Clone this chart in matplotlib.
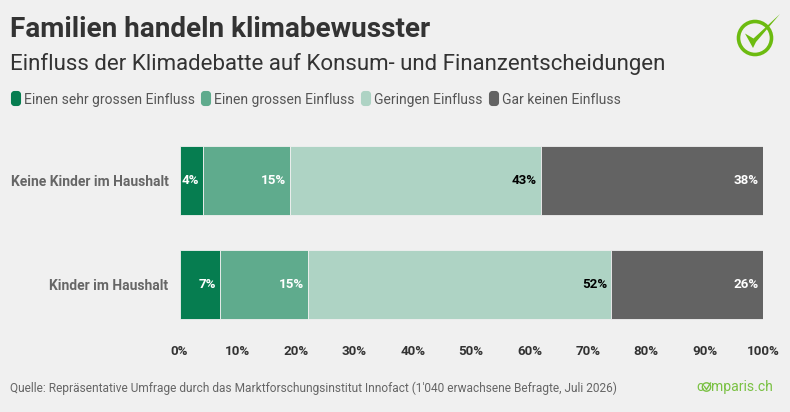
import matplotlib
matplotlib.use('Agg')
import matplotlib.pyplot as plt
from matplotlib.patches import Circle, FancyBboxPatch, Polygon
import numpy as np

# Data
groups = ['Keine Kinder im Haushalt', 'Kinder im Haushalt']
series_names = ['Einen sehr grossen Einfluss', 'Einen grossen Einfluss', 'Geringen Einfluss', 'Gar keinen Einfluss']
sehr_gross = [4, 7]
gross = [15, 15]
gering = [43, 52]
gar_kein = [38, 26]
xticks = [0, 10, 20, 30, 40, 50, 60, 70, 80, 90, 100]

colors = ['#067d50', '#5fab8d', '#aed3c4', '#636363']
label_colors = ['white', 'white', 'black', 'white']
bg = '#f0f0f0'
W, H = 790, 412

plt.rcParams['font.family'] = ['Roboto', 'DejaVu Sans']

fig = plt.figure(figsize=(W / 100, H / 100), dpi=100, facecolor=bg)

# overlay in pixel coordinates for the header, legend and logos
over = fig.add_axes([0, 0, 1, 1])
over.set_xlim(0, W)
over.set_ylim(H, 0)
over.axis('off')

over.text(10, 29.5, 'Familien handeln klimabewusster', fontsize=20.05, fontweight='bold', color='#333333', va='center')
over.text(10, 63.5, 'Einfluss der Klimadebatte auf Konsum- und Finanzentscheidungen', fontsize=16.05, color='#333333', va='center')

# legend
legend_x = [11, 201, 361, 489]
for name, c, lx in zip(series_names, colors, legend_x):
    over.add_patch(FancyBboxPatch((lx + 1, 92), 8, 13, boxstyle='round,pad=0,rounding_size=2.5', mutation_aspect=1,
                                  fc=c, ec=c, lw=1.5))
    over.text(lx + 13, 100, name, fontsize=10, color='#555555', va='center')

# source
over.text(10, 388, "Quelle: Repräsentative Umfrage durch das Marktforschungsinstitut Innofact (1'040 erwachsene Befragte, Juli 2026)",
          fontsize=8.55, color='#666666', va='center')

# comparis text + logo
over.text(696, 387, 'c', fontsize=10.2, color='#7ac143', va='center')
over.text(711, 387, 'mparis.ch', fontsize=10.1, color='#7ac143', va='center')
over.add_patch(Circle((706.5, 387), 4.2, fc='none', ec='#7ac143', lw=1))
over.plot([704.5, 706.5, 710.5], [386.5, 389.5, 383], color='#7ac143', lw=1)

over.add_patch(Circle((755, 38), 16.5, fc='none', ec='#6cbb10', lw=2.6))
over.add_patch(Polygon([(745, 33.5), (753.5, 38.5), (780, 14), (756, 42), (753, 48)], fc='#6cbb10', ec='none'))

# chart
ax = fig.add_axes([179.6 / W, 1 - 336.6 / H, 583.4 / W, 208 / H], facecolor='none')
y = np.arange(len(groups))
left = np.zeros(len(groups))
for vals, c, lc in zip([sehr_gross, gross, gering, gar_kein], colors, label_colors):
    bars = ax.barh(y, vals, left=left, height=0.658, color=c, edgecolor=bg, linewidth=0.6)
    for yi, v, l in zip(y, vals, left):
        ax.text(l + v - 0.7, yi, f'{v}%', ha='right', va='center', color=lc, fontsize=9.6, fontweight='bold')
    left += np.array(vals)

ax.set_xlim(0, 100)
ax.set_ylim(1.5, -0.5)
ax.set_yticks(y)
ax.set_yticklabels(groups, fontsize=10, fontweight='bold', color='#666666')
ax.set_xticks(xticks)
ax.set_xticklabels([f'{t}%' for t in xticks], fontsize=9.6, fontweight='bold', color='#333333')
ax.tick_params(length=0, axis='both')
ax.tick_params(axis='x', pad=6)
ax.tick_params(axis='y', pad=8)
for s in ax.spines.values():
    s.set_visible(False)

fig.savefig('out.png', dpi=100, facecolor=bg)
